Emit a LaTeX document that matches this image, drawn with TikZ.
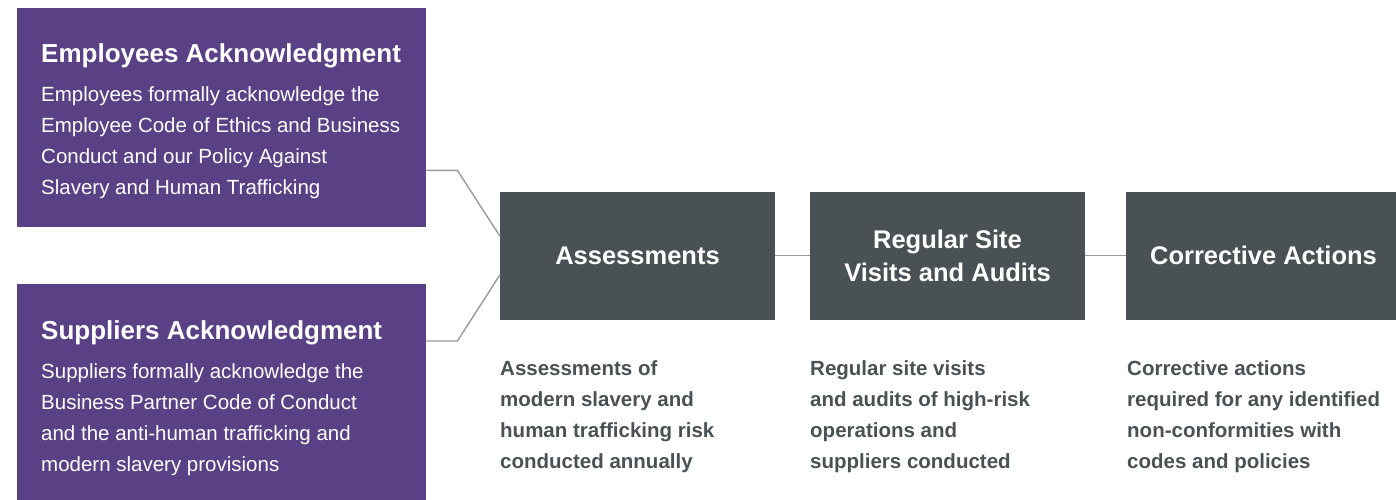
\documentclass[tikz,border=0pt]{standalone}
\usepackage{fontspec}
\setmainfont{Liberation Sans}
\usetikzlibrary{calc}

\definecolor{ackpurple}{HTML}{5A4085}
\definecolor{stepgray}{HTML}{4A5154}
\definecolor{linkgray}{HTML}{9A9A9A}

\tikzset{
  ackbox/.style={fill=ackpurple, anchor=north west, minimum width=409pt, inner sep=0pt},
  acktitle/.style={anchor=base west, text=white, inner sep=0pt,
    font=\bfseries\fontsize{26}{31}\selectfont},
  % multi-line texts are placed by the baseline of their last line
  acktext/.style={anchor=base west, text=white, align=left, inner sep=0pt,
    font=\fontsize{20.5}{31}\selectfont},
  stepbox/.style={fill=stepgray, text=white, minimum width=275pt, minimum height=128pt,
    align=center, inner sep=0pt, font=\bfseries\fontsize{25.5}{33}\selectfont},
  stepnote/.style={anchor=base west, text=stepgray, align=left, inner sep=0pt,
    font=\bfseries\fontsize{20.5}{31}\selectfont},
  link/.style={draw=linkgray, line width=1.4pt}
}

\begin{document}
\begin{tikzpicture}[x=1pt,y=-1pt]
            \useasboundingbox (0,0) rectangle (1396,499);
            % acknowledgments
            \node [ackbox, minimum height=219pt] (empBox) at (17,8) {};
            \node [acktitle] (empTitle) at (41,62) {Employees Acknowledgment};
            \node [acktext] (empText) at (41,194) {Employees formally acknowledge the\\Employee Code of Ethics and Business\\Conduct and our Policy Against\\Slavery and Human Trafficking};
            \node [ackbox, minimum height=216pt] (supBox) at (17,284) {};
            \node [acktitle] (supTitle) at (41,339) {Suppliers Acknowledgment};
            \node [acktext] (supText) at (41,471) {Suppliers formally acknowledge the\\Business Partner Code of Conduct\\and the anti-human trafficking and\\modern slavery provisions};
            % steps
            \node [stepbox] (assess) at (637.5,255.5) {Assessments};
            \node [stepbox] (audits) at (947.5,255.5) {Regular Site\\Visits and Audits};
            \node [stepbox] (correct) at (1263.5,255.5) {Corrective Actions};
            \node [stepnote] (assessNote) at (500,468) {Assessments of\\modern slavery and\\human trafficking risk\\conducted annually};
            \node [stepnote] (auditsNote) at (810,468) {Regular site visits\\and audits of high-risk\\operations and\\suppliers conducted};
            \node [stepnote] (correctNote) at (1127,468) {Corrective actions\\required for any identified\\non-conformities with\\codes and policies};
            % connectors
            \coordinate (empOut) at ($(empBox.south east)+(0,-57)$);
            \coordinate (supOut) at ($(supBox.north east)+(0,57)$);
            \coordinate (assessTop) at ($(assess.west)+(0,-19.5)$);
            \coordinate (assessLow) at ($(assess.west)+(0,19.5)$);
            \draw [link] (empOut) -- ++(31,0) -- (assessTop);
            \draw [link] (supOut) -- ++(31,0) -- (assessLow);
            \draw [link] (assess) -- (audits);
            \draw [link] (audits) -- (correct);
\end{tikzpicture}
\end{document}
